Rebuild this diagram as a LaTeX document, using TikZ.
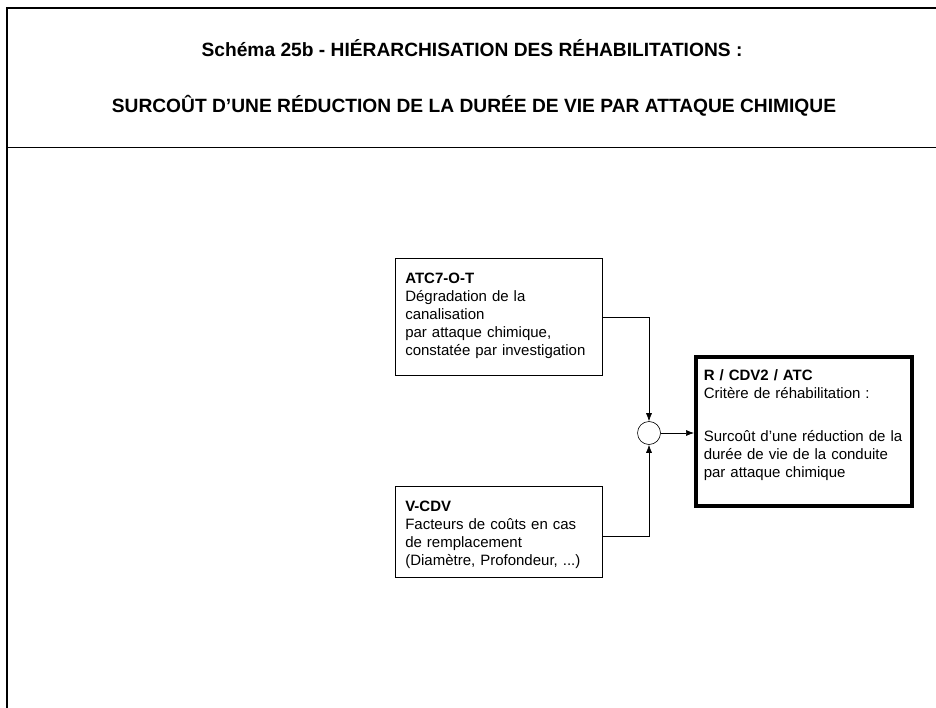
\documentclass[tikz,border=0pt]{standalone}
\usepackage{fontspec}
\setmainfont{Liberation Sans}
\usetikzlibrary{arrows.meta}

\tikzset{
  block/.style={draw, line width=0.6pt, align=left, anchor=north west,
    inner xsep=10pt, inner ysep=14pt, text height=11pt, font=\fontsize{15}{18}\selectfont},
  result/.style={block, line width=3.5pt, inner xsep=8pt, inner ysep=13pt},
  junction/.style={draw, circle, line width=0.6pt, minimum size=23pt, inner sep=0pt},
  link/.style={->, line width=0.6pt},
  titre/.style={anchor=base, font=\fontsize{19.2}{23}\selectfont\bfseries},
}

\begin{document}
\begin{tikzpicture}[x=1pt, y=-1pt, >={Latex[length=8pt,width=6pt]}]
  \useasboundingbox (0,0) rectangle (936,708);
  % cadre
  \draw[line width=2pt] (7,708) -- (7,8) -- (936,8);
  \draw[line width=0.8pt] (7,147) -- (936,147);
  \node[titre] (titre1) at (472,57) {Schéma 25b - HIÉRARCHISATION DES RÉHABILITATIONS :};
  \node[titre] (titre2) at (474,113) {SURCOÛT D’UNE RÉDUCTION DE LA DURÉE DE VIE PAR ATTAQUE CHIMIQUE};
  % blocs
  \node[block, text width=187pt, text depth=78pt] (atc) at (395,258)
    {\textbf{ATC7-O-T}\\Dégradation de la\\canalisation\\par attaque chimique,\\constatée par investigation};
  \node[block, text width=187pt, text depth=52pt] (vcdv) at (395,486)
    {\textbf{V-CDV}\\Facteurs de coûts en cas\\de remplacement\\(Diamètre, Profondeur, ...)};
  \node[result, text width=200pt, text depth=112pt] (crit) at (694,355)
    {\textbf{R / CDV2 / ATC}\\Critère de réhabilitation :\\[25pt]Surcoût d’une réduction de la\\durée de vie de la conduite\\par attaque chimique};
  \node[junction] (somme) at (649,433) {};
  % liaisons
  \draw[link] (atc.east) -| (somme.north);
  \draw[link] ([yshift=-4.5pt]vcdv.east) -| (somme.south);
  \draw[link] (somme) -- (somme -| crit.west);
\end{tikzpicture}
\end{document}
